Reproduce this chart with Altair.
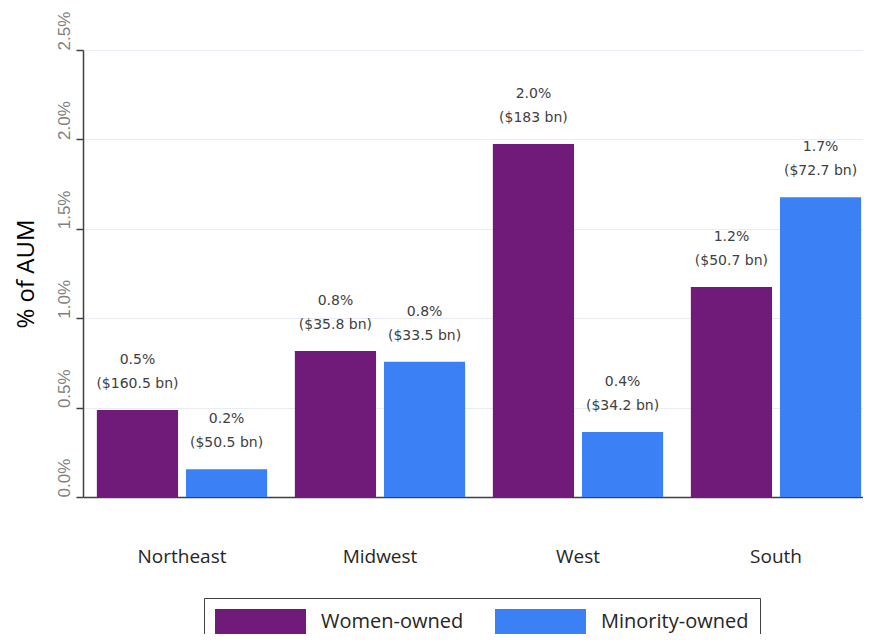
import altair as alt
import pandas as pd

regions = ["Northeast", "Midwest", "West", "South"]
groups = ["Women-owned", "Minority-owned"]
women_pct = [0.487, 0.817, 1.974, 1.174]
minority_pct = [0.155, 0.757, 0.364, 1.676]
women_pct_labels = ["0.5%", "0.8%", "2.0%", "1.2%"]
minority_pct_labels = ["0.2%", "0.8%", "0.4%", "1.7%"]
women_aum = ["$160.5 bn", "$35.8 bn", "$183 bn", "$50.7 bn"]
minority_aum = ["$50.5 bn", "$33.5 bn", "$34.2 bn", "$72.7 bn"]
y_ticks = [0.0, 0.005, 0.01, 0.015, 0.02, 0.025]
colors = ["#701A7A", "#3B80F5"]

rows = []
for i, r in enumerate(regions):
    rows.append({"region": r, "group": groups[0], "value": women_pct[i] / 100,
                 "label": f"{women_pct_labels[i]}\n({women_aum[i]})"})
    rows.append({"region": r, "group": groups[1], "value": minority_pct[i] / 100,
                 "label": f"{minority_pct_labels[i]}\n({minority_aum[i]})"})
df = pd.DataFrame(rows)

x_scale = alt.Scale(range=[0, 792], paddingInner=0.14, paddingOuter=0.07)
x_enc = alt.X(
    "region:N", sort=regions, scale=x_scale,
    axis=alt.Axis(title=None, ticks=False, labelPadding=50, labelFontSize=19,
                  labelColor="#262626", labelFont="Open Sans", labelAngle=0,
                  domainColor="#404040", domainWidth=1.5, grid=False),
)
xoff_enc = alt.XOffset("group:N", sort=groups,
                       scale=alt.Scale(paddingInner=0.089, paddingOuter=0))

y_enc = alt.Y(
    "value:Q", scale=alt.Scale(domain=[0, 0.025], nice=False),
    axis=alt.Axis(
        format=".1%", values=y_ticks, title="% of AUM",
        titleFontSize=24, titleFont="Open Sans", titleColor="#000000",
        titleFontWeight="normal", titleAngle=270, titleX=-57, titleY=223.5,
        titleAlign="center", titleBaseline="middle",
        labelAngle=270, labelAlign="left", labelBaseline="middle",
        labelPadding=12, labelFontSize=17, labelFont="Liberation Sans",
        labelColor="#808080", labelOverlap=False,
        tickSize=7, tickColor="#404040", tickWidth=1.5,
        domainColor="#404040", domainWidth=1.5,
        gridColor="#E9ECF2", gridWidth=1,
    ),
)

bars = alt.Chart(df).mark_bar().encode(
    x=x_enc,
    xOffset=xoff_enc,
    y=y_enc,
    color=alt.Color(
        "group:N", sort=groups,
        scale=alt.Scale(domain=groups, range=colors),
        legend=alt.Legend(
            title=None, orient="none", legendX=121, legendY=548,
            direction="horizontal",
            symbolType="M-1,-1H6V1H-1Z", symbolSize=676,
            symbolStrokeWidth=0, symbolOpacity=1,
            labelFontSize=20, labelFont="Open Sans", labelColor="#262626",
            labelOffset=80, columnPadding=31, padding=11,
            strokeColor="#404040", fillColor="white",
        ),
    ),
)

text = alt.Chart(df).mark_text(
    lineBreak="\n", baseline="bottom", dy=-43, fontSize=14,
    font="DejaVu Sans", color="#404040", lineHeight=24,
).encode(
    x=alt.X("region:N", sort=regions, scale=x_scale),
    xOffset=alt.XOffset("group:N", sort=groups),
    y=alt.Y("value:Q"),
    text="label:N",
)

chart = alt.layer(bars, text).properties(
    width=780, height=447,
    padding={"left": 75, "top": 42, "right": 0, "bottom": 137},
    autosize="none",
    background="white",
).configure_view(stroke=None)

chart.save("out.html", embed_options={"renderer": "svg", "actions": False})
